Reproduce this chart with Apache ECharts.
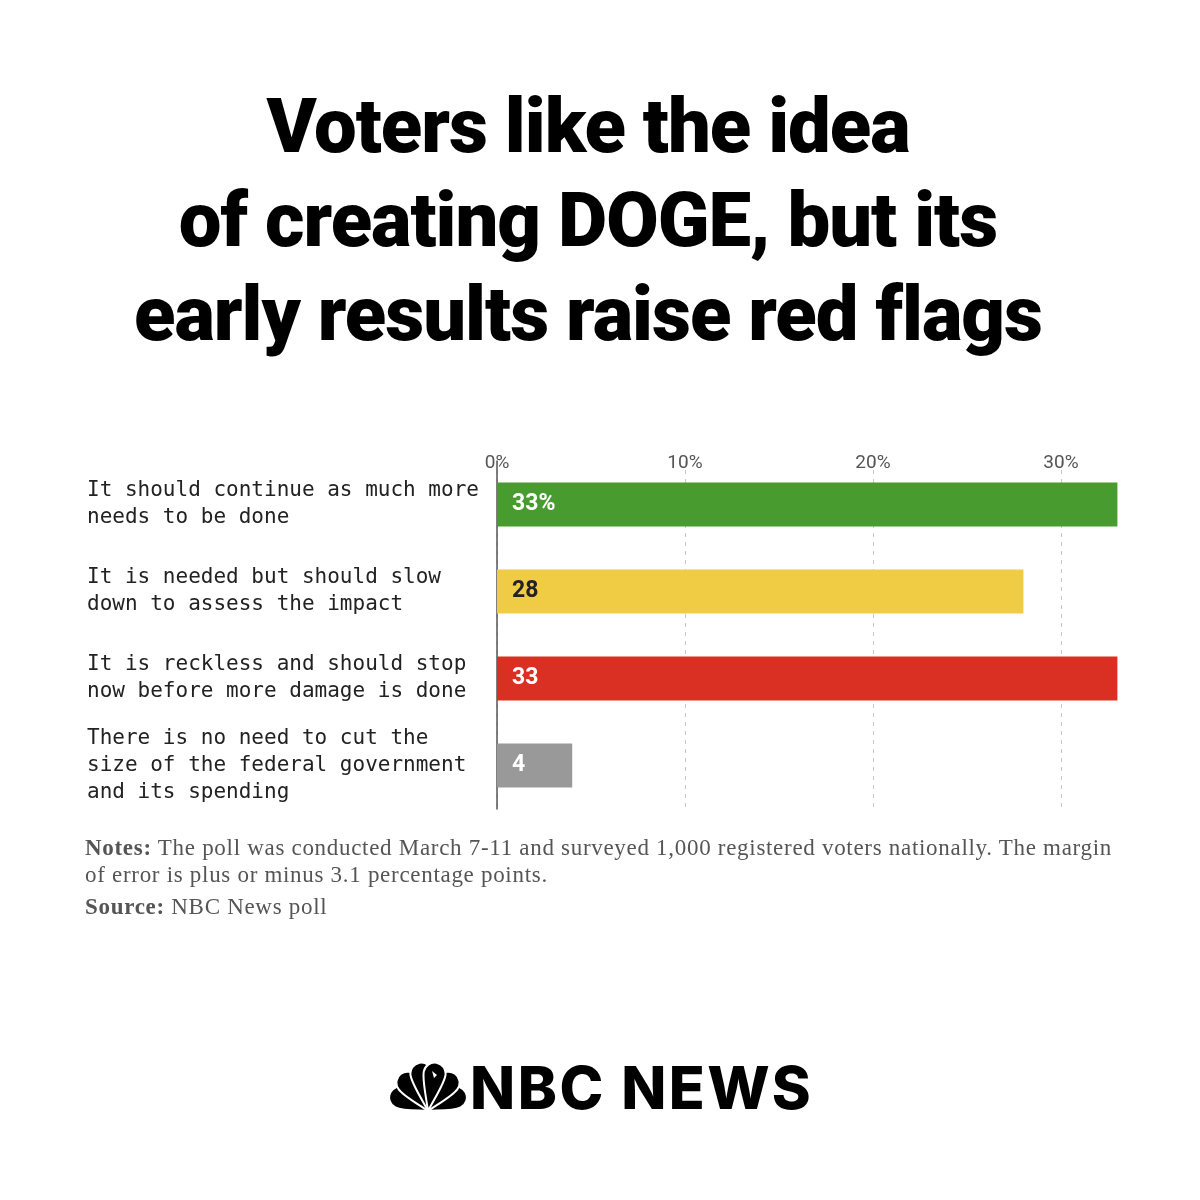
<!DOCTYPE html>
<html>
<head>
<meta charset="utf-8">
<script src="https://cdn.jsdelivr.net/npm/echarts@6/dist/echarts.min.js"></script>
<style>
  html, body { margin: 0; padding: 0; background: #fff; }
  #page { position: relative; width: 1200px; height: 1200px; overflow: hidden; }
  #chart { position: absolute; left: 0; top: 0; width: 1200px; height: 1200px; }
  #title {
    position: absolute; left: -12px; top: 79px; width: 1200px; text-align: center;
    font-family: Roboto, "Noto Sans", sans-serif; font-weight: 900;
    font-size: 76px; line-height: 94px; color: #000; letter-spacing: -1px;
  }
  #notes {
    position: absolute; left: 85px; top: 834px; width: 1100px;
    font-family: "Liberation Serif", "DejaVu Serif", serif; font-size: 23px;
    line-height: 27px; color: #555; letter-spacing: 0.7px;
  }
  #source { margin-top: 5px; }
  #logo svg { position: absolute; left: 388px; top: 1061px; }
  #logo span {
    position: absolute; left: 470px; top: 1058px; white-space: nowrap;
    font-family: Inter, Roboto, sans-serif; font-weight: 800;
    font-size: 59px; line-height: 60px; color: #000; letter-spacing: 2.5px;
  }
</style>
</head>
<body>
<div id="page">
  <div id="chart"></div>
  <div id="title">Voters like the idea<br>of creating DOGE, but its<br>early results raise red flags</div>
  <div id="notes">
    <div><b>Notes:</b> The poll was conducted March 7-11 and surveyed 1,000 registered voters nationally. The margin<br>of error is plus or minus 3.1 percentage points.</div>
    <div id="source"><b>Source:</b> NBC News poll</div>
  </div>
  <div id="logo">
    <svg width="80" height="52" viewBox="-40 -50 80 52">
      <g fill="#000" stroke="#fff" stroke-width="2">
        <path transform="rotate(-64)" d="M0,0 C-3,-8 -11,-22 -11,-31 A11,11 0 0,1 11,-31 C11,-22 3,-8 0,0 Z"/>
        <path transform="rotate(64)" d="M0,0 C-3,-8 -11,-22 -11,-31 A11,11 0 0,1 11,-31 C11,-22 3,-8 0,0 Z"/>
        <path transform="rotate(-36)" d="M0,0 C-3,-9 -11,-26 -11,-35 A11,11 0 0,1 11,-35 C11,-26 3,-9 0,0 Z"/>
        <path transform="rotate(36)" d="M0,0 C-3,-9 -11,-26 -11,-35 A11,11 0 0,1 11,-35 C11,-26 3,-9 0,0 Z"/>
        <path transform="rotate(-10)" d="M0,0 C-3,-10 -11,-29 -11,-38 A11,11 0 0,1 11,-38 C11,-29 3,-10 0,0 Z"/>
        <path transform="rotate(10)" d="M0,0 C-3,-10 -11,-29 -11,-38 A11,11 0 0,1 11,-38 C11,-29 3,-10 0,0 Z"/>
      </g>
      <path d="M4,-40 L9,-36 L6,-33 Z" fill="#fff"/>
    </svg>
    <span>NBC NEWS</span>
  </div>
</div>
<script>
// poll answers, top to bottom
const categories = [
  'It should continue as much more\nneeds to be done',
  'It is needed but should slow\ndown to assess the impact',
  'It is reckless and should stop\nnow before more damage is done',
  'There is no need to cut the\nsize of the federal government\nand its spending'
]
const values = [33, 28, 33, 4]
const xTicks = [0, 10, 20, 30]

const barColors = ['#489b2f', '#f0cb44', '#da3023', '#999999']
const labelColors = ['#fff', '#222', '#fff', '#fff']

const chart = echarts.init(document.getElementById('chart'))

const option = {
  animation: false,
  // grid runs past the right edge so the 33% bars end where the page does
  grid: {left: 497, top: 461, width: 752, height: 348, containLabel: false, outerBoundsMode: 'none'},
  xAxis: {
    type: 'value',
    position: 'top',
    min: xTicks[0],
    max: 40,
    interval: xTicks[1] - xTicks[0],
    axisLine: {show: false},
    axisTick: {show: false},
    axisLabel: {
      margin: -12,
      formatter: '{value}%',
      color: '#555',
      fontFamily: 'Roboto',
      fontSize: 19
    },
    splitLine: {lineStyle: {color: '#c8c8c8', type: [4, 5], width: 1}}
  },
  yAxis: {
    type: 'category',
    inverse: true,
    data: categories,
    axisLine: {show: true, lineStyle: {color: '#555', width: 1.5}},
    axisTick: {show: false},
    axisLabel: {
      align: 'left',
      margin: 410,
      color: '#222',
      fontFamily: 'DejaVu Sans Mono',
      fontSize: 21,
      lineHeight: 27
    }
  },
  series: [{
    type: 'bar',
    barWidth: 44,
    data: values.map((v, i) => ({
      value: v,
      itemStyle: {color: barColors[i]},
      label: {color: labelColors[i]}
    })),
    label: {
      show: true,
      position: 'insideLeft',
      distance: 15,
      fontFamily: 'Roboto',
      fontWeight: 'bold',
      fontSize: 23,
      formatter: p => p.dataIndex === 0 ? p.value + '%' : String(p.value)
    }
  }]
}

chart.setOption(option)
</script>
</body>
</html>
